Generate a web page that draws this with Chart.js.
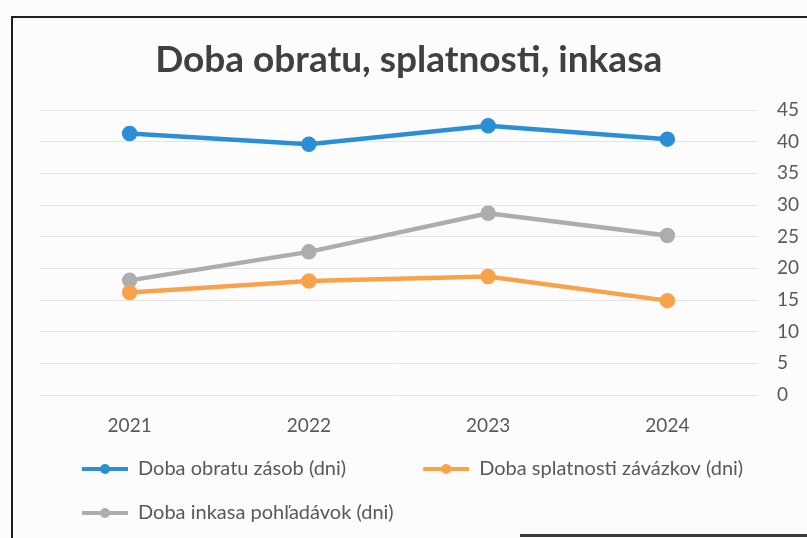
<!DOCTYPE html>
<html>
<head>
<meta charset="utf-8">
<script src="https://cdn.jsdelivr.net/npm/chart.js@4.4.1/dist/chart.umd.min.js"></script>
<style>
  html, body { margin: 0; padding: 0; background: #fcfcfc; }
  #wrap { position: relative; width: 807px; height: 538px; overflow: hidden; background: #fcfcfc; }
  #frameL { position: absolute; left: 11px; top: 16px; width: 0; height: 540px; border-left: 2px solid #1e1e1e; }
  #frameT { position: absolute; left: 11px; top: 16px; width: 820px; height: 0; border-top: 2px solid #1e1e1e; }
  #frameB { position: absolute; left: 520px; top: 534px; width: 300px; height: 0; border-top: 3px solid #3a3a3a; }
  canvas { position: absolute; left: 0; top: 0; }
</style>
</head>
<body>
<div id="wrap">
  <canvas id="c" width="807" height="538"></canvas>
  <div id="frameL"></div>
  <div id="frameT"></div>
  <div id="frameB"></div>
</div>
<script>
const chartTitle = 'Doba obratu, splatnosti, inkasa';
const categories = ['2021', '2022', '2023', '2024'];
const seriesNames = ['Doba obratu zásob (dni)', 'Doba splatnosti závázkov (dni)', 'Doba inkasa pohľadávok (dni)'];
const obratuZasob = [41.3, 39.6, 42.5, 40.4];
const splatnostiZavazkov = [16.2, 18.0, 18.7, 14.9];
const inkasaPohladavok = [18.1, 22.6, 28.7, 25.2];
const seriesColors = ['#2a8fd5', '#f8a24a', '#adadad'];
const yMin = 0, yMax = 45, yStep = 5;

function makeMarker(color) {
  const cv = document.createElement('canvas');
  cv.width = 64; cv.height = 12;
  const g = cv.getContext('2d');
  g.strokeStyle = color; g.lineWidth = 4; g.lineCap = 'butt';
  g.beginPath(); g.moveTo(18, 6); g.lineTo(64, 6); g.stroke();
  g.fillStyle = color;
  g.beginPath(); g.arc(41, 6, 5, 0, Math.PI * 2); g.fill();
  return cv;
}
const markers = seriesColors.map(makeMarker);

const values = [obratuZasob, splatnostiZavazkov, inkasaPohladavok];
const datasets = values.map((v, i) => ({
  label: seriesNames[i],
  data: v,
  borderColor: seriesColors[i],
  backgroundColor: seriesColors[i],
  pointBackgroundColor: seriesColors[i],
  pointBorderColor: seriesColors[i],
  borderWidth: 4.5,
  pointRadius: 5.5,
  pointHoverRadius: 5.5,
  tension: 0,
  fill: false
}));

new Chart(document.getElementById('c'), {
  type: 'line',
  data: { labels: categories, datasets: datasets },
  options: {
    responsive: false,
    animation: false,
    layout: { padding: { top: 0, left: 40, right: 5, bottom: 5 } },
    plugins: {
      title: {
        display: true,
        text: chartTitle + '\u2002\u2006',
        color: '#404040',
        font: { family: 'Lato', size: 37, weight: 'bold' },
        padding: { top: 37.8, bottom: 27.8 }
      },
      legend: {
        display: true,
        position: 'bottom',
        align: 'start',
        labels: {
          usePointStyle: true,
          pointStyleWidth: 64,
          padding: 24,
          color: '#595959',
          font: { family: 'Lato', size: 20 },
          generateLabels: function (chart) {
            const items = Chart.defaults.plugins.legend.labels.generateLabels(chart);
            items.forEach((it, i) => {
              it.pointStyle = markers[i];
              if (i === 0) it.text = it.text + '\u2003\u2003\u2005';
            });
            return items;
          }
        }
      },
      tooltip: { enabled: false }
    },
    scales: {
      x: {
        offset: true,
        grid: { display: false, drawTicks: false },
        border: { display: false },
        ticks: { color: '#595959', font: { family: 'Lato', size: 19 }, padding: 19 },
        afterFit: function (scale) { scale.height = 40; }
      },
      y: {
        position: 'right',
        min: yMin,
        max: yMax,
        grid: { color: '#e4e4e4', lineWidth: 1, drawTicks: false },
        border: { display: false },
        ticks: { stepSize: yStep, color: '#595959', font: { family: 'Lato', size: 19 }, padding: 20 },
        afterFit: function (scale) { scale.width = 45; }
      }
    }
  }
});
</script>
</body>
</html>
